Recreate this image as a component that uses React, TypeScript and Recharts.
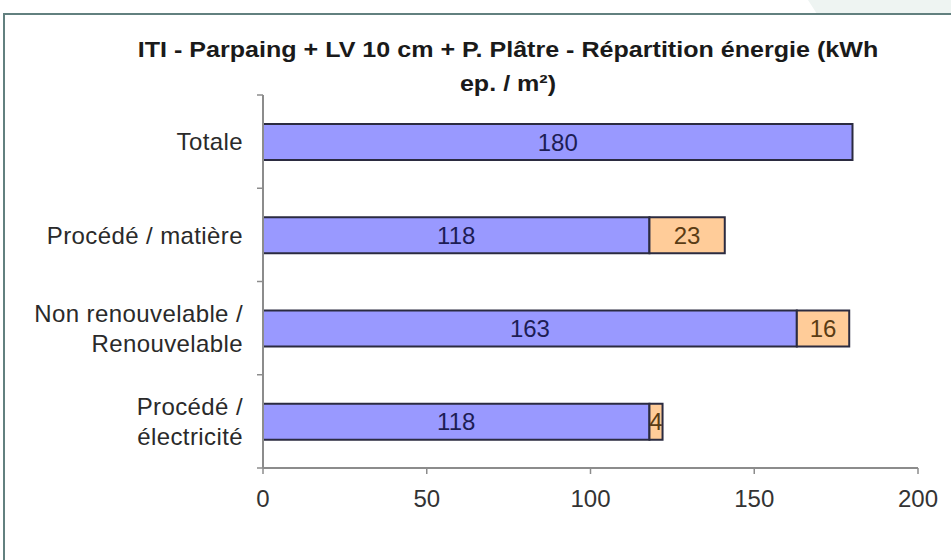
import React from "react";
import { BarChart, Bar, XAxis, YAxis, LabelList } from "recharts";

const titleLines = [
  "ITI - Parpaing + LV 10 cm + P. Plâtre - Répartition énergie (kWh",
  "ep. / m²)",
];
const categories = [
  "Totale",
  "Procédé / matière",
  "Non renouvelable / Renouvelable",
  "Procédé / électricité",
];
const categoryLines: string[][] = [
  ["Totale"],
  ["Procédé / matière"],
  ["Non renouvelable /", "Renouvelable"],
  ["Procédé /", "électricité"],
];
const firstPart = [180, 118, 163, 118];
const secondPart: (number | null)[] = [null, 23, 16, 4];
const xTicks = [0, 50, 100, 150, 200];

const data = categories.map((name, i) => ({
  name,
  first: firstPart[i],
  second: secondPart[i],
}));

const FONT = "'Liberation Sans', Arial, sans-serif";
const TICK_MARGIN = 20;
const AXIS_COLOR = "#8c8c8c";

const CategoryTick = (props: any) => {
  const { x, y, payload, height, index } = props;
  const idx = categories.indexOf(payload.value);
  const lines = idx >= 0 ? categoryLines[idx] : [String(payload.value)];
  const n = lines.length;
  const band =
    payload && payload.offset ? payload.offset * 2 : height / categories.length;
  const ax = x + TICK_MARGIN;
  const isLast = index === categories.length - 1;
  return (
    <g>
      <line
        x1={ax - 6}
        x2={ax}
        y1={y - band / 2}
        y2={y - band / 2}
        stroke={AXIS_COLOR}
        strokeWidth={1.5}
      />
      {isLast && (
        <line
          x1={ax - 6}
          x2={ax}
          y1={y + band / 2}
          y2={y + band / 2}
          stroke={AXIS_COLOR}
          strokeWidth={1.5}
        />
      )}
      <text
        x={x}
        y={y}
        textAnchor="end"
        fill="#2a2a2a"
        fontSize={24}
        letterSpacing={0.4}
        fontFamily={FONT}
      >
        {lines.map((l, i) => (
          <tspan key={i} x={x} y={y + (i - (n - 1) / 2) * 30} dy="0.36em">
            {l}
          </tspan>
        ))}
      </text>
    </g>
  );
};

export default function App() {
  return (
    <div
      style={{
        position: "absolute",
        left: 0,
        top: 0,
        width: 951,
        height: 560,
        overflow: "hidden",
        background: "#ffffff",
        fontFamily: FONT,
      }}
    >
      <div
        style={{
          position: "absolute",
          left: 808,
          top: 0,
          width: 150,
          height: 14,
          background: "#eef4f2",
          clipPath: "polygon(0 0, 100% 0, 100% 100%, 6% 100%)",
        }}
      />
      <div
        style={{
          position: "absolute",
          left: 3,
          top: 13,
          width: 1000,
          height: 600,
          borderTop: "2px solid #62807f",
          borderLeft: "2px solid #62807f",
        }}
      />
      <div
        style={{
          position: "absolute",
          left: 0,
          top: 33,
          width: 1016,
          textAlign: "center",
          fontWeight: "bold",
          fontSize: 22,
          lineHeight: "34px",
          color: "#1a1a1a",
          transform: "scaleX(1.14)",
          transformOrigin: "508px 0",
        }}
      >
        {titleLines.map((t, i) => (
          <div key={i}>{t}</div>
        ))}
      </div>
      <div style={{ position: "absolute", left: 0, top: 0 }}>
        <BarChart
          width={951}
          height={560}
          data={data}
          layout="vertical"
          barSize={36}
          margin={{ top: 95, right: 33, bottom: 52, left: 23 }}
        >
          <YAxis
            type="category"
            dataKey="name"
            width={240}
            axisLine={{ stroke: AXIS_COLOR, strokeWidth: 2 }}
            tickLine={false}
            tickSize={0}
            tickMargin={TICK_MARGIN}
            tick={<CategoryTick />}
            interval={0}
          />
          <XAxis
            type="number"
            domain={[0, 200]}
            ticks={xTicks}
            height={40}
            tickSize={6}
            tickMargin={16}
            axisLine={{ stroke: AXIS_COLOR, strokeWidth: 2 }}
            tickLine={{ stroke: AXIS_COLOR, strokeWidth: 1.5 }}
            tick={{ fontSize: 24, fill: "#333333", fontFamily: FONT }}
          />
          <Bar
            dataKey="first"
            stackId="s"
            fill="#9999ff"
            stroke="#2b2b40"
            strokeWidth={2}
            isAnimationActive={false}
          >
            <LabelList
              dataKey="first"
              position="center"
              fill="#1d1d55"
              fontSize={24}
              fontFamily={FONT}
            />
          </Bar>
          <Bar
            dataKey="second"
            stackId="s"
            fill="#ffcc99"
            stroke="#2b2b40"
            strokeWidth={2}
            isAnimationActive={false}
          >
            <LabelList
              dataKey="second"
              position="center"
              fill="#5a3c14"
              fontSize={24}
              fontFamily={FONT}
            />
          </Bar>
        </BarChart>
      </div>
    </div>
  );
}
